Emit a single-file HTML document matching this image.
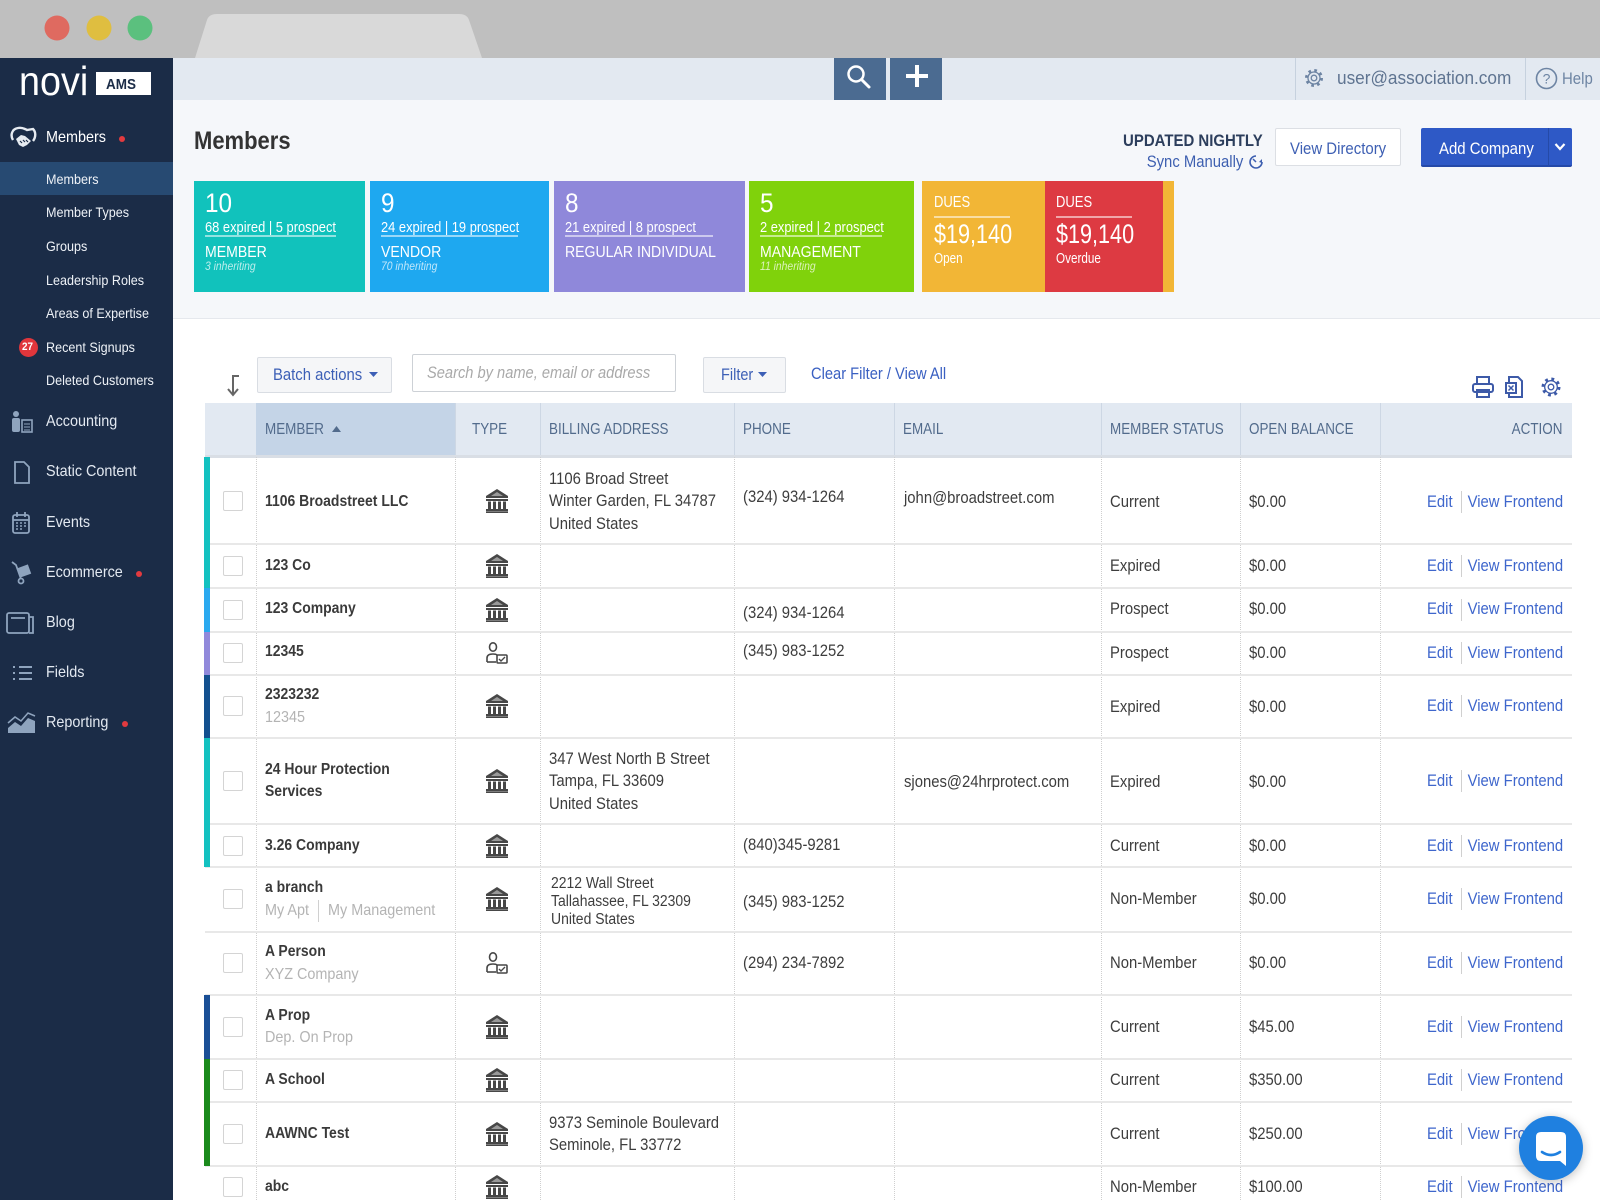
<!DOCTYPE html>
<html><head><meta charset="utf-8"><title>Members</title>
<style>
*{margin:0;padding:0;box-sizing:border-box}
html,body{width:1600px;height:1200px;overflow:hidden;background:#fff;font-family:"Liberation Sans",Arial,sans-serif}
.a{position:absolute}
.t{position:absolute;white-space:nowrap;line-height:1;top:calc(var(--y) - .5em);transform:scaleX(.9);transform-origin:0 50%}
.r{transform-origin:100% 50%}
.sb{color:#e3e9f1;font-size:16px}
.sm{color:#eef2f7;font-size:14px}
.h{font-size:16px;color:#526b8c;transform:scaleX(.84)}
.h.r{transform-origin:100% 50%}
.c{font-size:16.5px;color:#3d3d3d}
.n{font-size:15.5px;font-weight:bold;color:#3a3a3a}
.g{font-size:16px;color:#b4b4b4}
.l{font-size:16.5px;color:#3e66cc}
.w{color:#fff}
.cb{position:absolute;left:223px;width:20px;height:20px;border:1px solid #d4d4d4;border-radius:2px;background:#fff}
.hl{position:absolute;left:205px;width:1367px;height:2px;background:#e8e8e8}
.vl{position:absolute;top:457px;height:743px;width:0;border-left:1px dotted #cfcfcf}
.hv{position:absolute;top:403px;height:54px;width:1px;background:#cdd7e4}
.bar{position:absolute;left:204px;width:6px}
.ic{position:absolute;left:486px}
.sep{position:absolute;left:1461px;width:1px;height:22px;background:#d0d0d0}
.card{position:absolute;top:181px;height:111px}
.cn{font-size:27px}
.cs{font-size:15px;transform:scaleX(.86)}
.ct{font-size:16px;transform:scaleX(.88)}
.ci{font-size:11.5px;font-style:italic;color:rgba(255,255,255,.72)}
.ul{position:absolute;height:2px;background:rgba(255,255,255,.55);top:235px}
.si{position:absolute;left:8px}
</style></head><body>

<!-- browser chrome -->
<div class="a" style="left:0;top:0;width:1600px;height:58px;background:#bfbfbf"></div>
<svg class="a" style="left:0;top:0" width="600" height="58">
<path d="M195 58 L207 20 Q209 14 217 14 L459 14 Q467 14 469 20 L482 58 Z" fill="#d9d9d9"/>
<circle cx="57" cy="28" r="12.5" fill="#df6a60"/>
<circle cx="99" cy="28" r="12.5" fill="#dfbe40"/>
<circle cx="140" cy="28" r="12.5" fill="#5bc07e"/>
</svg>

<!-- sidebar -->
<div class="a" style="left:0;top:58px;width:173px;height:1142px;background:#1b2c47"></div>
<div class="t w" style="left:19px;--y:0px;top:61px;font-size:41px;transform:scaleX(.92)">novi</div>
<div class="a" style="left:96px;top:72px;width:55px;height:23px;background:#fff"></div>
<div class="t" style="left:106px;--y:84px;font-size:15px;font-weight:bold;color:#1b2c47;transform:scaleX(.9)">AMS</div>

<svg class="a" style="left:9px;top:126px" width="28" height="24" viewBox="0 0 28 24">
<path d="M4 14 C1 9 3 3 9 2 C13 1 16 3 18 4 L24 3 C27 6 27 11 24 15" fill="none" stroke="#e6ebf1" stroke-width="2.4"/>
<path d="M7 13 L12 9 L16 10 L22 15 L18 19 L14 21 L10 19 Z" fill="#e6ebf1"/>
<path d="M11 15 l2 2 M14 14 l2 2 M17 14 l2 2" stroke="#1b2c47" stroke-width="1.2"/>
</svg>
<div class="t sb" style="left:46px;--y:138px;color:#fff">Members</div>
<div class="a" style="left:119px;top:136px;width:6px;height:6px;border-radius:50%;background:#e23a3f"></div>

<div class="a" style="left:0;top:162px;width:173px;height:33px;background:#274a72"></div>
<div class="t sm" style="left:46px;--y:179px">Members</div>
<div class="t sm" style="left:46px;--y:212px">Member Types</div>
<div class="t sm" style="left:46px;--y:246px">Groups</div>
<div class="t sm" style="left:46px;--y:280px">Leadership Roles</div>
<div class="t sm" style="left:46px;--y:313px">Areas of Expertise</div>
<div class="a" style="left:19px;top:338px;width:19px;height:19px;border-radius:50%;background:#e0363c"></div>
<div class="t" style="left:22px;--y:347.5px;font-size:11px;font-weight:bold;color:#fff;transform:scaleX(.9)">27</div>
<div class="t sm" style="left:46px;--y:347px">Recent Signups</div>
<div class="t sm" style="left:46px;--y:380px">Deleted Customers</div>

<svg class="si" style="top:410px" width="28" height="24" viewBox="0 0 28 24" fill="#8fa4be" stroke="#8fa4be">
<circle cx="8" cy="4" r="3" stroke="none"/><rect x="4" y="8" width="8" height="14" rx="2" stroke="none"/><rect x="14" y="10" width="10" height="12" fill="none" stroke-width="1.6"/><path d="M16 14h6M16 17h6M16 20h6" stroke-width="1"/></svg>
<div class="t sb" style="left:46px;--y:422px">Accounting</div>
<svg class="si" style="top:460px" width="28" height="24" viewBox="0 0 28 24"><path d="M7 2h9l5 5v16H7z" fill="none" stroke="#8fa4be" stroke-width="1.8"/></svg>
<div class="t sb" style="left:46px;--y:472px">Static Content</div>
<svg class="si" style="top:511px" width="28" height="24" viewBox="0 0 28 24" stroke="#8fa4be" fill="none"><rect x="5" y="4" width="16" height="18" rx="2" stroke-width="1.8"/><path d="M5 9h16M9 1v5M17 1v5" stroke-width="1.8"/><path d="M8 12h2M12 12h2M16 12h2M8 15h2M12 15h2M16 15h2M8 18h2M12 18h2" stroke-width="1.5"/></svg>
<div class="t sb" style="left:46px;--y:523px">Events</div>
<svg class="si" style="top:561px" width="28" height="24" viewBox="0 0 28 24" stroke="#8fa4be" fill="none" stroke-width="1.8"><path d="M4 1l4 3 5 14"/><circle cx="13" cy="20" r="2.5"/><rect x="12" y="6" width="9" height="8" transform="rotate(-20 16 10)" fill="#8fa4be"/></svg>
<div class="t sb" style="left:46px;--y:573px">Ecommerce</div>
<div class="a" style="left:136px;top:571px;width:6px;height:6px;border-radius:50%;background:#e23a3f"></div>
<svg class="si" style="top:611px;left:5px" width="30" height="24" viewBox="0 0 30 24" stroke="#8fa4be" fill="none" stroke-width="1.8"><rect x="2" y="2" width="22" height="20" rx="2"/><path d="M24 6h4v16h-4M6 7h14"/></svg>
<div class="t sb" style="left:46px;--y:623px">Blog</div>
<svg class="si" style="top:661px" width="28" height="24" viewBox="0 0 28 24" stroke="#8fa4be" stroke-width="2"><path d="M5 6h2M5 12h2M5 18h2M11 6h13M11 12h13M11 18h13"/></svg>
<div class="t sb" style="left:46px;--y:673px">Fields</div>
<svg class="si" style="top:711px;left:6px" width="32" height="24" viewBox="0 0 32 24"><path d="M2 22 L2 17 L9 11 L15 15 L22 7 L29 10 L29 22Z" fill="#8fa4be"/><path d="M2 12 L9 6 L15 10 L22 2 L29 5" fill="none" stroke="#8fa4be" stroke-width="1.5"/></svg>
<div class="t sb" style="left:46px;--y:723px">Reporting</div>
<div class="a" style="left:122px;top:721px;width:6px;height:6px;border-radius:50%;background:#e23a3f"></div>

<!-- top bar -->
<div class="a" style="left:173px;top:58px;width:1427px;height:42px;background:#e3e9f1"></div>
<div class="a" style="left:834px;top:58px;width:52px;height:42px;background:#4b6b91"></div>
<div class="a" style="left:890px;top:58px;width:52px;height:42px;background:#4b6b91"></div>
<svg class="a" style="left:834px;top:58px" width="108" height="42">
<circle cx="22" cy="16" r="7.5" fill="none" stroke="#fff" stroke-width="2.5"/><path d="M27.5 21.5 L35 29" stroke="#fff" stroke-width="3" stroke-linecap="round"/>
<path d="M83 7v22M72 18h22" stroke="#fff" stroke-width="4"/>
</svg>
<div class="a" style="left:1295px;top:58px;width:1px;height:42px;background:#c6d1de"></div>
<div class="a" style="left:1525px;top:58px;width:1px;height:42px;background:#c6d1de"></div>
<svg class="a" style="left:1303px;top:67px" width="22" height="22" viewBox="0 0 22 22" fill="none" stroke="#6d84a3">
<circle cx="11" cy="11" r="7.5" stroke-width="3" stroke-dasharray="2.6 3.3"/><circle cx="11" cy="11" r="6" stroke-width="1.3"/><circle cx="11" cy="11" r="2.8" stroke-width="1.3"/></svg>
<div class="t" style="left:1337px;--y:78px;font-size:18.5px;color:#5f7491;transform:scaleX(.93)">user@association.com</div>
<svg class="a" style="left:1535px;top:67px" width="23" height="23" viewBox="0 0 23 23"><circle cx="11.5" cy="11.5" r="10" fill="none" stroke="#6d84a3" stroke-width="1.6"/><text x="11.5" y="16.5" font-family="Liberation Sans" font-size="14" fill="#6d84a3" text-anchor="middle">?</text></svg>
<div class="t" style="left:1562px;--y:78px;font-size:17px;color:#6d84a3;transform:scaleX(.88)">Help</div>

<!-- header area -->
<div class="a" style="left:173px;top:100px;width:1427px;height:219px;background:#f5f7fa;border-bottom:1px solid #e5e8ed"></div>
<div class="t" style="left:194px;--y:141px;font-size:25px;font-weight:bold;color:#333;transform:scaleX(.88)">Members</div>

<div class="t r" style="left:auto;right:337px;--y:140px;font-size:17px;font-weight:bold;color:#2c3e5c;transform:scaleX(.88)">UPDATED NIGHTLY</div>
<div class="t r" style="left:auto;right:357px;--y:162px;font-size:16.5px;color:#3d5fb0;transform:scaleX(.9)">Sync Manually</div>
<svg class="a" style="left:1248px;top:154px" width="16" height="16" viewBox="0 0 16 16"><path d="M8 2 A6 6 0 1 0 14 8" fill="none" stroke="#3d5fb0" stroke-width="1.6"/><path d="M8 8 L5 5" stroke="#3d5fb0" stroke-width="1.5"/><path d="M14 5 L14 9 L11 8" fill="#3d5fb0"/></svg>

<div class="a" style="left:1275px;top:128px;width:126px;height:38px;background:#fff;border:1px solid #dcdfe4;border-radius:2px"></div>
<div class="t" style="left:1290px;--y:148px;font-size:17px;color:#3d5fb3;transform:scaleX(.88)">View Directory</div>
<div class="a" style="left:1421px;top:128px;width:151px;height:39px;background:#2e59c6;border-bottom:2px solid #2449a8;border-radius:2px"></div>
<div class="a" style="left:1548px;top:128px;width:1px;height:39px;background:#254aa8"></div>
<div class="t w" style="left:1439px;--y:148px;font-size:17px;transform:scaleX(.88)">Add Company</div>
<svg class="a" style="left:1554px;top:142px" width="12" height="10"><path d="M1.5 2 L6 7 L10.5 2" fill="none" stroke="#fff" stroke-width="2.2"/></svg>

<!-- cards -->
<div class="card" style="left:194px;width:171px;background:#11c2bc"></div>
<div class="card" style="left:370px;width:179px;background:#1ea8f0"></div>
<div class="card" style="left:554px;width:191px;background:#8f88da"></div>
<div class="card" style="left:749px;width:165px;background:#80d20b"></div>
<div class="card" style="left:922px;width:252px;background:#f2b636"></div>
<div class="card" style="left:1045px;width:118px;background:#dd3a42"></div>

<div class="t w cn" style="left:205px;--y:203px">10</div>
<div class="t w cs" style="left:205px;--y:227px">68 expired | 5 prospect</div>
<div class="ul" style="left:205px;width:131px"></div>
<div class="t w ct" style="left:205px;--y:253px">MEMBER</div>
<div class="t ci" style="left:205px;--y:268px">3 inheriting</div>

<div class="t w cn" style="left:381px;--y:203px">9</div>
<div class="t w cs" style="left:381px;--y:227px">24 expired | 19 prospect</div>
<div class="ul" style="left:381px;width:137px"></div>
<div class="t w ct" style="left:381px;--y:253px">VENDOR</div>
<div class="t ci" style="left:381px;--y:268px">70 inheriting</div>

<div class="t w cn" style="left:565px;--y:203px">8</div>
<div class="t w cs" style="left:565px;--y:227px">21 expired | 8 prospect</div>
<div class="ul" style="left:565px;width:148px"></div>
<div class="t w ct" style="left:565px;--y:253px">REGULAR INDIVIDUAL</div>

<div class="t w cn" style="left:760px;--y:203px">5</div>
<div class="t w cs" style="left:760px;--y:227px">2 expired | 2 prospect</div>
<div class="ul" style="left:760px;width:122px"></div>
<div class="t w ct" style="left:760px;--y:253px">MANAGEMENT</div>
<div class="t ci" style="left:760px;--y:268px">11 inheriting</div>

<div class="t w" style="left:934px;--y:203px;font-size:15.5px;transform:scaleX(.84)">DUES</div>
<div class="ul" style="left:934px;width:76px;top:216px"></div>
<div class="t w" style="left:934px;--y:234px;font-size:27px;transform:scaleX(.8)">$19,140</div>
<div class="t w" style="left:934px;--y:258px;font-size:15px;transform:scaleX(.78)">Open</div>
<div class="t w" style="left:1056px;--y:203px;font-size:15.5px;transform:scaleX(.84)">DUES</div>
<div class="ul" style="left:1056px;width:76px;top:216px"></div>
<div class="t w" style="left:1056px;--y:234px;font-size:27px;transform:scaleX(.8)">$19,140</div>
<div class="t w" style="left:1056px;--y:258px;font-size:15px;transform:scaleX(.78)">Overdue</div>

<!-- toolbar -->
<svg class="a" style="left:225px;top:374px" width="18" height="24" viewBox="0 0 18 24"><path d="M14 2 H8 V20" fill="none" stroke="#666" stroke-width="2"/><path d="M3 15 L8 21 L13 15" fill="none" stroke="#666" stroke-width="2"/></svg>
<div class="a" style="left:257px;top:357px;width:135px;height:36px;background:#f5f6f8;border:1px solid #d9dde3;border-radius:2px"></div>
<div class="t" style="left:273px;--y:375px;font-size:16.5px;color:#3c5fb6;transform:scaleX(.9)">Batch actions</div>
<svg class="a" style="left:369px;top:372px" width="9" height="6"><path d="M0 0 L9 0 L4.5 5Z" fill="#3c5fb6"/></svg>
<div class="a" style="left:412px;top:354px;width:264px;height:38px;background:#fff;border:1px solid #cdd1d6;border-radius:2px"></div>
<div class="t" style="left:427px;--y:373px;font-size:16.3px;font-style:italic;color:#a9a9a9">Search by name, email or address</div>
<div class="a" style="left:703px;top:357px;width:83px;height:36px;background:#f5f6f8;border:1px solid #d9dde3;border-radius:2px"></div>
<div class="t" style="left:721px;--y:375px;font-size:16.5px;color:#3c5fb6;transform:scaleX(.88)">Filter</div>
<svg class="a" style="left:758px;top:372px" width="9" height="6"><path d="M0 0 L9 0 L4.5 5Z" fill="#3c5fb6"/></svg>
<div class="t" style="left:811px;--y:374px;font-size:16.5px;color:#3a60c2;transform:scaleX(.89)">Clear Filter / View All</div>
<svg class="a" style="left:1472px;top:376px" width="92" height="22" viewBox="0 0 92 22" fill="none" stroke="#3d5aa8" stroke-width="2">
<rect x="5" y="1" width="12" height="7"/><rect x="1" y="8" width="20" height="8" rx="2"/><rect x="5" y="14" width="12" height="7"/>
<path d="M37 1h9l4 4v16H37z"/><rect x="34" y="7" width="10" height="10" fill="#fff"/><path d="M36.5 9.5l5 5M41.5 9.5l-5 5" stroke-width="1.5"/>
<circle cx="79" cy="11" r="8" stroke-width="3" stroke-dasharray="2.8 3.5"/><circle cx="79" cy="11" r="6.3" stroke-width="1.3"/><circle cx="79" cy="11" r="2.8" stroke-width="1.3"/>
</svg>

<!-- table header -->
<div class="a" style="left:205px;top:403px;width:1367px;height:54px;background:#e2e9f2"></div>
<div class="a" style="left:256px;top:403px;width:199px;height:54px;background:#c4d4e7"></div>
<div class="hv" style="left:455px"></div><div class="hv" style="left:540px"></div><div class="hv" style="left:734px"></div><div class="hv" style="left:894px"></div><div class="hv" style="left:1101px"></div><div class="hv" style="left:1240px"></div><div class="hv" style="left:1380px"></div>
<div class="a" style="left:205px;top:455px;width:1367px;height:3px;background:#d9dee5"></div>
<div class="t h" style="left:265px;--y:430px">MEMBER</div>
<svg class="a" style="left:332px;top:426px" width="9" height="7"><path d="M0 6 L9 6 L4.5 0Z" fill="#526b8c"/></svg>
<div class="t h" style="left:472px;--y:430px">TYPE</div>
<div class="t h" style="left:549px;--y:430px">BILLING ADDRESS</div>
<div class="t h" style="left:743px;--y:430px">PHONE</div>
<div class="t h" style="left:903px;--y:430px">EMAIL</div>
<div class="t h" style="left:1110px;--y:430px">MEMBER STATUS</div>
<div class="t h" style="left:1249px;--y:430px">OPEN BALANCE</div>
<div class="t h r" style="left:auto;right:38px;--y:430px">ACTION</div>

<!-- body grid -->
<div class="vl" style="left:256px"></div><div class="vl" style="left:455px"></div><div class="vl" style="left:540px"></div><div class="vl" style="left:734px"></div><div class="vl" style="left:894px"></div><div class="vl" style="left:1101px"></div><div class="vl" style="left:1240px"></div><div class="vl" style="left:1380px"></div>
<div class="hl" style="top:543px"></div><div class="hl" style="top:587px"></div><div class="hl" style="top:631px"></div><div class="hl" style="top:674px"></div><div class="hl" style="top:737px"></div><div class="hl" style="top:823px"></div><div class="hl" style="top:866px"></div><div class="hl" style="top:931px"></div><div class="hl" style="top:994px"></div><div class="hl" style="top:1058px"></div><div class="hl" style="top:1101px"></div><div class="hl" style="top:1165px"></div>

<div class="bar" style="top:457px;height:131px;background:#13c1c0"></div>
<div class="bar" style="top:588px;height:44px;background:#2aa9ef"></div>
<div class="bar" style="top:632px;height:43px;background:#9189db"></div>
<div class="bar" style="top:675px;height:63px;background:#13508f"></div>
<div class="bar" style="top:738px;height:129px;background:#13c1c0"></div>
<div class="bar" style="top:995px;height:64px;background:#1a4f96"></div>
<div class="bar" style="top:1059px;height:107px;background:#1b8a1c"></div>

<!-- checkboxes -->
<div class="cb" style="top:491px"></div><div class="cb" style="top:556px"></div><div class="cb" style="top:600px"></div><div class="cb" style="top:643px"></div><div class="cb" style="top:696px"></div><div class="cb" style="top:771px"></div><div class="cb" style="top:836px"></div><div class="cb" style="top:889px"></div><div class="cb" style="top:953px"></div><div class="cb" style="top:1017px"></div><div class="cb" style="top:1070px"></div><div class="cb" style="top:1124px"></div><div class="cb" style="top:1177px"></div>

<!-- type icons -->
<svg width="0" height="0" style="position:absolute"><defs>
<g id="bank"><path d="M11 0 L22 7 L22 9 L0 9 L0 7Z" fill="#474747"/><path d="M11 3 L17 7 L5 7Z" fill="#9a9a9a"/><rect x="0" y="10" width="22" height="2" fill="#474747"/><rect x="2" y="12.5" width="3" height="7.5" fill="#474747"/><rect x="7" y="12.5" width="3" height="7.5" fill="#474747"/><rect x="12" y="12.5" width="3" height="7.5" fill="#474747"/><rect x="17" y="12.5" width="3" height="7.5" fill="#474747"/><rect x="0" y="20" width="22" height="2" fill="#474747"/><rect x="0" y="22.3" width="22" height="1.7" fill="#474747"/></g>
<g id="person" fill="none" stroke="#474747" stroke-width="1.6"><ellipse cx="7" cy="5" rx="3.5" ry="4.2"/><path d="M1 20 V16 Q1 12 7 12 Q10 12 11 13"/><path d="M1 20 H10"/><rect x="11" y="13" width="10" height="8" rx="1" fill="#fff"/><path d="M13 17 l2 2 4-4" stroke-width="1.4"/></g>
</defs></svg>
<svg class="ic" style="top:489px" width="22" height="24"><use href="#bank"/></svg>
<svg class="ic" style="top:554px" width="22" height="24"><use href="#bank"/></svg>
<svg class="ic" style="top:598px" width="22" height="24"><use href="#bank"/></svg>
<svg class="ic" style="top:642px" width="22" height="24"><use href="#person"/></svg>
<svg class="ic" style="top:694px" width="22" height="24"><use href="#bank"/></svg>
<svg class="ic" style="top:769px" width="22" height="24"><use href="#bank"/></svg>
<svg class="ic" style="top:834px" width="22" height="24"><use href="#bank"/></svg>
<svg class="ic" style="top:887px" width="22" height="24"><use href="#bank"/></svg>
<svg class="ic" style="top:952px" width="22" height="24"><use href="#person"/></svg>
<svg class="ic" style="top:1015px" width="22" height="24"><use href="#bank"/></svg>
<svg class="ic" style="top:1068px" width="22" height="24"><use href="#bank"/></svg>
<svg class="ic" style="top:1122px" width="22" height="24"><use href="#bank"/></svg>
<svg class="ic" style="top:1175px" width="22" height="24"><use href="#bank"/></svg>

<!-- row 1 -->
<div class="t n" style="left:265px;--y:502px">1106 Broadstreet LLC</div>
<div class="t c" style="left:549px;--y:479px">1106 Broad Street</div>
<div class="t c" style="left:549px;--y:501px">Winter Garden, FL 34787</div>
<div class="t c" style="left:549px;--y:524px">United States</div>
<div class="t c" style="left:743px;--y:497px">(324) 934-1264</div>
<div class="t c" style="left:904px;--y:498px">john@broadstreet.com</div>
<div class="t c" style="left:1110px;--y:502px">Current</div>
<div class="t c" style="left:1249px;--y:502px">$0.00</div>
<!-- row 2 -->
<div class="t n" style="left:265px;--y:566px">123 Co</div>
<div class="t c" style="left:1110px;--y:566px">Expired</div>
<div class="t c" style="left:1249px;--y:566px">$0.00</div>
<!-- row 3 -->
<div class="t n" style="left:265px;--y:609px">123 Company</div>
<div class="t c" style="left:743px;--y:613px">(324) 934-1264</div>
<div class="t c" style="left:1110px;--y:609px">Prospect</div>
<div class="t c" style="left:1249px;--y:609px">$0.00</div>
<!-- row 4 -->
<div class="t n" style="left:265px;--y:652px">12345</div>
<div class="t c" style="left:743px;--y:651px">(345) 983-1252</div>
<div class="t c" style="left:1110px;--y:653px">Prospect</div>
<div class="t c" style="left:1249px;--y:653px">$0.00</div>
<!-- row 5 -->
<div class="t n" style="left:265px;--y:695px">2323232</div>
<div class="t g" style="left:265px;--y:718px">12345</div>
<div class="t c" style="left:1110px;--y:707px">Expired</div>
<div class="t c" style="left:1249px;--y:707px">$0.00</div>
<!-- row 6 -->
<div class="t n" style="left:265px;--y:770px">24 Hour Protection</div>
<div class="t n" style="left:265px;--y:792px">Services</div>
<div class="t c" style="left:549px;--y:759px">347 West North B Street</div>
<div class="t c" style="left:549px;--y:781px">Tampa, FL 33609</div>
<div class="t c" style="left:549px;--y:804px">United States</div>
<div class="t c" style="left:904px;--y:782px">sjones@24hrprotect.com</div>
<div class="t c" style="left:1110px;--y:782px">Expired</div>
<div class="t c" style="left:1249px;--y:782px">$0.00</div>
<!-- row 7 -->
<div class="t n" style="left:265px;--y:846px">3.26 Company</div>
<div class="t c" style="left:743px;--y:845px">(840)345-9281</div>
<div class="t c" style="left:1110px;--y:846px">Current</div>
<div class="t c" style="left:1249px;--y:846px">$0.00</div>
<!-- row 8 -->
<div class="t n" style="left:265px;--y:888px">a branch</div>
<div class="t g" style="left:265px;--y:911px">My Apt</div>
<div class="a" style="left:318px;top:900px;width:1px;height:22px;background:#d0d0d0"></div>
<div class="t g" style="left:328px;--y:911px">My Management</div>
<div class="t c" style="left:551px;--y:884px;font-size:15.5px">2212 Wall Street</div>
<div class="t c" style="left:551px;--y:902px;font-size:15.5px">Tallahassee, FL 32309</div>
<div class="t c" style="left:551px;--y:920px;font-size:15.5px">United States</div>
<div class="t c" style="left:743px;--y:902px">(345) 983-1252</div>
<div class="t c" style="left:1110px;--y:899px">Non-Member</div>
<div class="t c" style="left:1249px;--y:899px">$0.00</div>
<!-- row 9 -->
<div class="t n" style="left:265px;--y:952px">A Person</div>
<div class="t g" style="left:265px;--y:975px">XYZ Company</div>
<div class="t c" style="left:743px;--y:963px">(294) 234-7892</div>
<div class="t c" style="left:1110px;--y:963px">Non-Member</div>
<div class="t c" style="left:1249px;--y:963px">$0.00</div>
<!-- row 10 -->
<div class="t n" style="left:265px;--y:1016px">A Prop</div>
<div class="t g" style="left:265px;--y:1038px">Dep. On Prop</div>
<div class="t c" style="left:1110px;--y:1027px">Current</div>
<div class="t c" style="left:1249px;--y:1027px">$45.00</div>
<!-- row 11 -->
<div class="t n" style="left:265px;--y:1080px">A School</div>
<div class="t c" style="left:1110px;--y:1080px">Current</div>
<div class="t c" style="left:1249px;--y:1080px">$350.00</div>
<!-- row 12 -->
<div class="t n" style="left:265px;--y:1134px">AAWNC Test</div>
<div class="t c" style="left:549px;--y:1123px">9373 Seminole Boulevard</div>
<div class="t c" style="left:549px;--y:1145px">Seminole, FL 33772</div>
<div class="t c" style="left:1110px;--y:1134px">Current</div>
<div class="t c" style="left:1249px;--y:1134px">$250.00</div>
<!-- row 13 -->
<div class="t n" style="left:265px;--y:1187px">abc</div>
<div class="t c" style="left:1110px;--y:1187px">Non-Member</div>
<div class="t c" style="left:1249px;--y:1187px">$100.00</div>

<!-- actions -->
<div class="t l" style="left:1427px;--y:502px">Edit</div><div class="sep" style="top:491px"></div><div class="t l r" style="left:auto;right:37px;--y:502px">View Frontend</div>
<div class="t l" style="left:1427px;--y:566px">Edit</div><div class="sep" style="top:555px"></div><div class="t l r" style="left:auto;right:37px;--y:566px">View Frontend</div>
<div class="t l" style="left:1427px;--y:609px">Edit</div><div class="sep" style="top:599px"></div><div class="t l r" style="left:auto;right:37px;--y:609px">View Frontend</div>
<div class="t l" style="left:1427px;--y:653px">Edit</div><div class="sep" style="top:642px"></div><div class="t l r" style="left:auto;right:37px;--y:653px">View Frontend</div>
<div class="t l" style="left:1427px;--y:706px">Edit</div><div class="sep" style="top:695px"></div><div class="t l r" style="left:auto;right:37px;--y:706px">View Frontend</div>
<div class="t l" style="left:1427px;--y:781px">Edit</div><div class="sep" style="top:770px"></div><div class="t l r" style="left:auto;right:37px;--y:781px">View Frontend</div>
<div class="t l" style="left:1427px;--y:846px">Edit</div><div class="sep" style="top:835px"></div><div class="t l r" style="left:auto;right:37px;--y:846px">View Frontend</div>
<div class="t l" style="left:1427px;--y:899px">Edit</div><div class="sep" style="top:888px"></div><div class="t l r" style="left:auto;right:37px;--y:899px">View Frontend</div>
<div class="t l" style="left:1427px;--y:963px">Edit</div><div class="sep" style="top:952px"></div><div class="t l r" style="left:auto;right:37px;--y:963px">View Frontend</div>
<div class="t l" style="left:1427px;--y:1027px">Edit</div><div class="sep" style="top:1016px"></div><div class="t l r" style="left:auto;right:37px;--y:1027px">View Frontend</div>
<div class="t l" style="left:1427px;--y:1080px">Edit</div><div class="sep" style="top:1069px"></div><div class="t l r" style="left:auto;right:37px;--y:1080px">View Frontend</div>
<div class="t l" style="left:1427px;--y:1134px">Edit</div><div class="sep" style="top:1123px"></div><div class="t l r" style="left:auto;right:37px;--y:1134px">View Frontend</div>
<div class="t l" style="left:1427px;--y:1187px">Edit</div><div class="sep" style="top:1176px"></div><div class="t l r" style="left:auto;right:37px;--y:1187px">View Frontend</div>

<!-- chat bubble -->
<div class="a" style="left:1519px;top:1116px;width:64px;height:64px;border-radius:50%;background:#1f80e0;box-shadow:0 2px 10px rgba(0,0,0,.25)"></div>
<svg class="a" style="left:1519px;top:1116px" width="64" height="64" viewBox="0 0 64 64">
<path d="M22 16 H42 Q47 16 47 21 V50 L41 45 H22 Q17 45 17 40 V21 Q17 16 22 16Z" fill="#fff"/>
<path d="M23 36 Q32 42 41 36" fill="none" stroke="#1f80e0" stroke-width="2.6" stroke-linecap="round"/>
</svg>

</body></html>
